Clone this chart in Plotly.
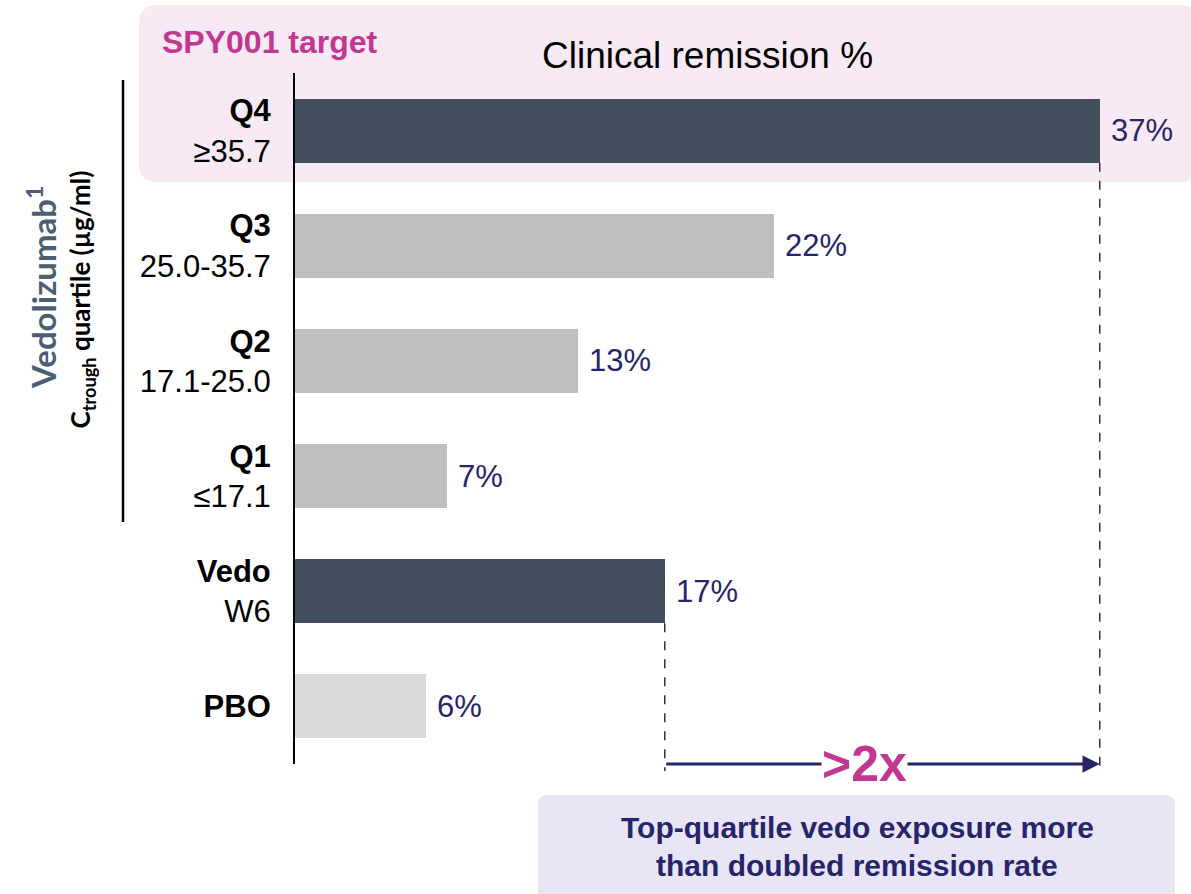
import plotly.graph_objects as go

# categories (top to bottom) and clinical remission rates (%)
groups = ["Q4", "Q3", "Q2", "Q1", "Vedo", "PBO"]
sublabels = ["≥35.7", "25.0-35.7", "17.1-25.0", "≤17.1", "W6", ""]
remission = [37, 22, 13, 7, 17, 6]
bar_colors = ["#424f5f", "#bfbfbf", "#bfbfbf", "#bfbfbf", "#424f5f", "#d9d9db"]

NAVY = "#27256a"
MAGENTA = "#c2378f"
SANS = "Liberation Sans, Arial"
BAR_W = 0.557

tick_text = [f"<b>{g}</b><br>{s}" if s else f"<b>{g}</b>" for g, s in zip(groups, sublabels)]

fig = go.Figure()
fig.add_trace(go.Bar(
    x=remission, y=tick_text, orientation="h",
    marker=dict(color=bar_colors, line=dict(width=0)),
    width=BAR_W, hoverinfo="skip",
))

# value labels
for lbl, val in zip(tick_text, remission):
    fig.add_annotation(x=val, y=lbl, text=f"{val}%", showarrow=False,
                       xanchor="left", yanchor="middle", xshift=9,
                       font=dict(family=SANS, size=31, color=NAVY))


def rounded_rect(x0, y0, x1, y1, rx, ry):
    return (f"M{x0+rx},{y0} L{x1-rx},{y0} Q{x1},{y0} {x1},{y0+ry} "
            f"L{x1},{y1-ry} Q{x1},{y1} {x1-rx},{y1} L{x0+rx},{y1} "
            f"Q{x0},{y1} {x0},{y1-ry} L{x0},{y0+ry} Q{x0},{y0} {x0+rx},{y0} Z")


# pink "SPY001 target" band and lavender message box
fig.add_shape(type="path", xref="paper", yref="paper", layer="below",
              path=rounded_rect(-0.1793, 0.8423, 1.04, 1.0984, 0.0207, 0.026),
              fillcolor="#f8eaf4", line=dict(width=0))
fig.add_shape(type="path", xref="paper", yref="paper", layer="below",
              path=rounded_rect(0.2793, -0.25, 1.0115, -0.0449, 0.0115, 0.0145),
              fillcolor="#e8e6f6", line=dict(width=0))

# dashed guides from the Q4 and Vedo bar ends
n = len(groups)
q4_i, vedo_i = groups.index("Q4"), groups.index("Vedo")
for i in (q4_i, vedo_i):
    y_bottom = 1 - (i + 0.5 + BAR_W / 2) / n
    fig.add_shape(type="line", xref="x", yref="paper",
                  x0=remission[i], x1=remission[i], y0=y_bottom, y1=-0.01,
                  line=dict(color="#333333", width=1.5, dash="dash"))

# >2x arrow
fig.add_annotation(x=remission[q4_i], y=0, xref="x", yref="paper",
                   ax=remission[vedo_i], ay=0, axref="x", ayref="pixel",
                   text="", showarrow=True, arrowhead=2, arrowsize=1.15,
                   arrowwidth=3, arrowcolor=NAVY, standoff=0)
fig.add_annotation(x=(remission[q4_i] + remission[vedo_i]) / 2, y=0,
                   xref="x", yref="paper", text="<b>>2x</b>", showarrow=False,
                   xshift=-18, xanchor="center", yanchor="middle",
                   bgcolor="white", borderpad=0,
                   font=dict(family=SANS, size=50, color=MAGENTA))


def note(x, y, text, font, **kw):
    fig.add_annotation(x=x, y=y, xref="paper", yref="paper", text=text,
                       showarrow=False, xanchor=kw.pop("xanchor", "center"),
                       yanchor="middle", font=font, **kw)


note(0.4747, 1.026, "Clinical remission %", dict(family=SANS, size=37, color="black"))
note(-0.1552, 1.045, "<b>SPY001 target</b>", dict(family=SANS, size=32, color=MAGENTA),
     xanchor="left")
note(-0.291, 0.69, "Vedolizumab<sup>1</sup>",
     dict(family="Lato", size=33, weight="bold", color="#4c5e74"), textangle=-90)
note(-0.245, 0.672, "C<sub>trough</sub> quartile (µg/ml)",
     dict(family="Lato", size=26, weight="bold", color="black"), textangle=-90)
note(0.646, -0.0926, "<b>Top-quartile vedo exposure more</b>",
     dict(family=SANS, size=30, color=NAVY))
note(0.646, -0.1462, "<b>than doubled remission rate</b>",
     dict(family=SANS, size=30, color=NAVY))

# bracket line for the quartile group
fig.add_shape(type="line", xref="paper", yref="paper",
              x0=-0.1977, x1=-0.1977, y0=0.9899, y1=0.3502,
              line=dict(color="black", width=2.5))

fig.update_layout(
    width=1191, height=894, autosize=False,
    margin=dict(l=295, r=26, t=73, b=130, pad=0),
    plot_bgcolor="rgba(0,0,0,0)", paper_bgcolor="white",
    showlegend=False, bargap=0,
    xaxis=dict(range=[0, 40], visible=False, showgrid=False, zeroline=False),
    yaxis=dict(range=[n - 0.5, -0.5], showline=True, linecolor="black", linewidth=2,
               showgrid=False, zeroline=False, ticks="", ticklabelstandoff=16,
               tickfont=dict(family=SANS, size=31, color="black")),
)

fig.write_html("out.html", config={"displayModeBar": False},
               post_script="document.body.style.margin='0';")
